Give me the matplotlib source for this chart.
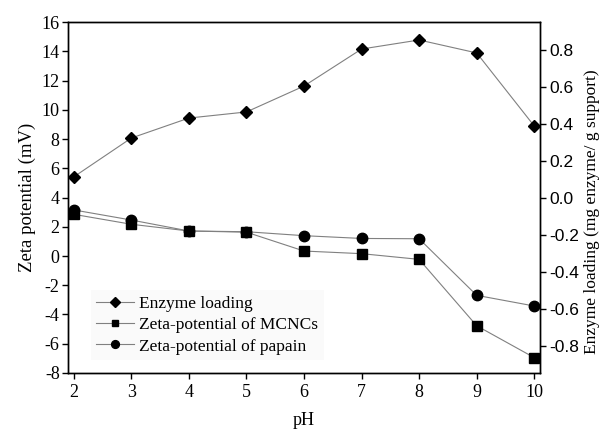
import matplotlib
matplotlib.use("Agg")
import matplotlib.pyplot as plt

plt.rcParams["axes.unicode_minus"] = False

ph = [2, 3, 4, 5, 6, 7, 8, 9, 10]
enzyme_loading = [0.114, 0.324, 0.432, 0.465, 0.605, 0.805, 0.854, 0.784, 0.389]
zeta_mcnc = [2.85, 2.17, 1.71, 1.63, 0.34, 0.16, -0.23, -4.77, -6.95]
zeta_papain = [3.15, 2.46, 1.71, 1.66, 1.39, 1.20, 1.18, -2.69, -3.42]

left_ticks = [16, 14, 12, 10, 8, 6, 4, 2, 0, -2, -4, -6, -8]
right_ticks = [0.8, 0.6, 0.4, 0.2, 0.0, -0.2, -0.4, -0.6, -0.8]

serif = "Liberation Serif"
sans = "Liberation Sans"
line_col = "#808080"

fig = plt.figure(figsize=(6.02, 4.32), dpi=100)
ax = fig.add_axes([0.113, 0.1366, 0.784, 0.8124])
ax2 = ax.twinx()

h2, = ax.plot(ph, zeta_mcnc, color=line_col, lw=0.8, marker="s", ms=6.5,
              mfc="black", mec="black", label="Zeta-potential of MCNCs")
h3, = ax.plot(ph, zeta_papain, color=line_col, lw=0.8, marker="o", ms=7.5,
              mfc="black", mec="black", label="Zeta-potential of papain")
h1, = ax2.plot(ph, enzyme_loading, color=line_col, lw=0.8, marker="D", ms=6.5,
               mfc="black", mec="black", label="Enzyme loading")

ax.set_xlim(1.9, 10.1)
ax.set_ylim(-8, 16)
ax2.set_ylim(-0.946, 0.951)

ax.set_xticks(ph)
ax.set_yticks(left_ticks)
ax2.set_yticks(right_ticks)
ax2.set_yticklabels([f"{v:.1f}" for v in right_ticks])

for lab in ax.get_xticklabels() + ax.get_yticklabels():
    lab.set_fontfamily(serif)
    lab.set_fontsize(13)
for lab in ax2.get_yticklabels():
    lab.set_fontfamily(sans)
    lab.set_fontsize(12.5)

ax.tick_params(direction="out", length=4, width=1)
ax.tick_params(axis="y", pad=2)
ax.tick_params(axis="x", pad=4)
ax2.tick_params(direction="out", length=4, width=1, pad=3)
for a in (ax, ax2):
    for s in a.spines.values():
        s.set_linewidth(1.0)

ax.set_xlabel("pH", fontfamily=serif, fontsize=13, labelpad=8)
ax.set_ylabel("Zeta potential (mV)", fontfamily=serif, fontsize=13.5, labelpad=4)
ax2.set_ylabel("Enzyme loading (mg enzyme/ g support)", fontfamily=serif,
               fontsize=12.5)
ax2.yaxis.set_label_coords(1.093, 0.46)

leg = ax2.legend(handles=[h1, h2, h3], loc="upper left",
                 bbox_to_anchor=(0.03, 0.26), frameon=True,
                 prop={"family": serif, "size": 12.5}, handlelength=2.2,
                 handletextpad=0.3, labelspacing=0.3, borderpad=0.3,
                 markerscale=0.75, fancybox=False)
leg.get_frame().set_facecolor("#f9f9f9")
leg.get_frame().set_edgecolor("none")

fig.savefig("out.png", dpi=100)
